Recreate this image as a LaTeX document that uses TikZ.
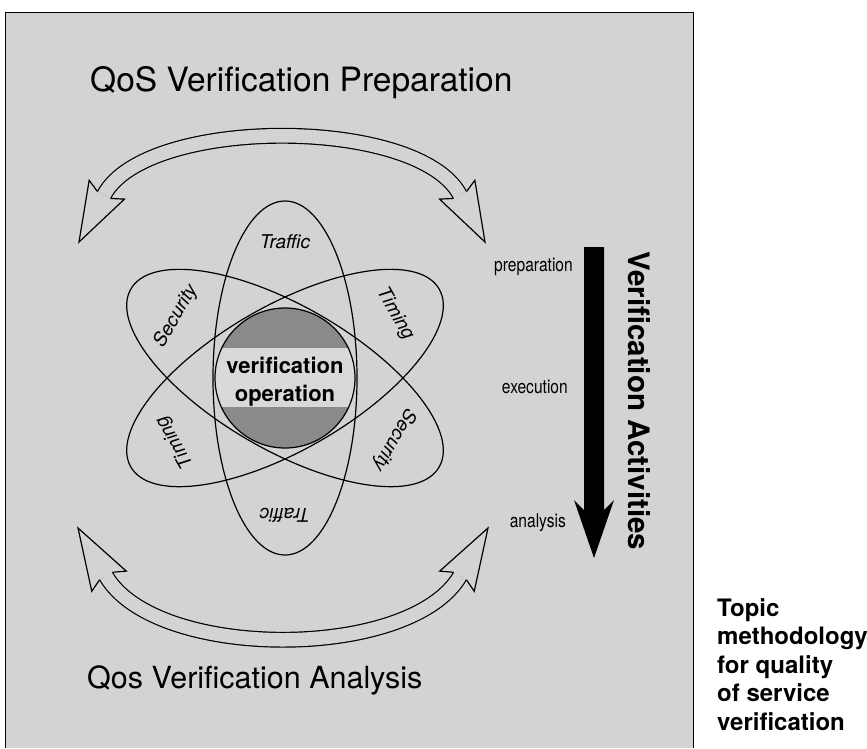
\documentclass[tikz,border=0pt]{standalone}
\usepackage{fontspec}
\setmainfont{TeX Gyre Heros}
\newfontfamily\narrowfont[FakeStretch=0.82]{TeX Gyre Heros}
\usetikzlibrary{calc}
\definecolor{panelgray}{HTML}{D3D3D3}
\definecolor{bandgray}{HTML}{D9D9D9}
\definecolor{circgray}{HTML}{8A8A8A}
\tikzset{
  lbl/.style={font=\fontsize{19}{22}\selectfont\itshape, inner sep=0pt},
  actlbl/.style={font=\narrowfont\fontsize{19}{22}\selectfont, anchor=east, inner sep=0pt},
  ttl/.style={font=\fontsize{30.5}{36}\selectfont, anchor=base west, inner sep=0pt},
  captxt/.style={font=\bfseries\fontsize{24}{30}\selectfont, anchor=base west, inner sep=0pt},
  ctrtxt/.style={font=\bfseries\fontsize{22}{26}\selectfont, anchor=base, inner sep=0pt},
  orbit/.style={draw=black, line width=1.2pt},
  shaft/.style={draw=black, double=panelgray, double distance=13.5pt, line width=1.2pt},
  headstyle/.style={draw=black, fill=panelgray, line width=1.2pt, line join=miter},
}
\newcommand\hhead[2]{%
  \coordinate (#1q) at ($(#1)!-6pt!(#2)$);
  \filldraw[headstyle] ($(#1)!7.35pt!90:(#2)$) -- ($(#1q)!20pt!90:(#2)$) -- (#2)
     -- ($(#1q)!20pt!-90:(#2)$) -- ($(#1)!7.35pt!-90:(#2)$);}
\begin{document}
\begin{tikzpicture}[x=1pt,y=-1pt]
\useasboundingbox (0,0) rectangle (867,748);
% panel
\fill[panelgray] (5,12) rectangle (693,748);
\draw[line width=0.8pt] (5,748) -- (5,12) -- (693,12) -- (693,748);

% titles
\node[ttl, font=\fontsize{33.5}{38}\selectfont] (prep) at (90,91) {QoS Verification Preparation};
\node[ttl] (anal) at (87,688) {Qos Verification Analysis};

% top hollow double arrow
\coordinate (tlP) at (104,195); \coordinate (tlT) at (79,242);
\coordinate (trP) at (460,195); \coordinate (trT) at (485,242);
\draw[shaft] (tlP) .. controls (146,116) and (418,116) .. (trP);
\hhead{tlP}{tlT}
\hhead{trP}{trT}

% bottom hollow double arrow
\coordinate (blP) at (106,576); \coordinate (blT) at (78,528);
\coordinate (brP) at (460,576); \coordinate (brT) at (488,528);
\draw[shaft] (blP) .. controls (155.6,661) and (410.4,661) .. (brP);
\hhead{blP}{blT}
\hhead{brP}{brT}

% orbits
\coordinate (ctr) at (285,378);
\draw[orbit] (ctr) ellipse [x radius=72pt, y radius=177pt];
\draw[orbit, rotate around={-30:(ctr)}] (ctr) ellipse [x radius=178pt, y radius=72pt];
\draw[orbit, rotate around={30:(ctr)}] (ctr) ellipse [x radius=178pt, y radius=72pt];

% core
\begin{scope}
  \clip (ctr) circle [radius=70pt];
  \fill[circgray] (ctr) circle [radius=70pt];
  \fill[bandgray] (200,348) rectangle (370,407);
\end{scope}
\draw[orbit] (ctr) circle [radius=70pt];
\node[ctrtxt] (v1) at (285,373) {verification};
\node[ctrtxt] (v2) at (285,401) {operation};

% orbit labels
\node[lbl] (tr1) at (285,242) {Traffic};
\node[lbl, rotate=180] (tr2) at (285,515) {Traffic};
\node[lbl, rotate=60] (se1) at (176,316) {Security};
\node[lbl, rotate=-60] (ti1) at (395,314) {Timing};
\node[lbl, rotate=120] (ti2) at (175,442) {Timing};
\node[lbl, rotate=240] (se2) at (394,440) {Security};

% activities arrow
\coordinate (vaTip) at (594,558);
\fill[black] (584,247) -- (604,247) -- (604,510) -- (614,500) -- (vaTip)
   -- (574,500) -- (584,510) -- cycle;
\node[actlbl] (lp) at (573,267) {preparation};
\node[actlbl] (le) at (568,387) {execution};
\node[actlbl] (la) at (566,523) {analysis};
\node[font=\bfseries\fontsize{29.5}{34}\selectfont, rotate=-90, inner sep=0pt] (va) at (639,401) {Verification Activities};

% caption
\node[captxt] (c1) at (717,616) {Topic};
\node[captxt] (c2) at (717,644.5) {methodology};
\node[captxt] (c3) at (717,673) {for quality};
\node[captxt] (c4) at (717,701.5) {of service};
\node[captxt] (c5) at (717,730) {verification};
\end{tikzpicture}
\end{document}
